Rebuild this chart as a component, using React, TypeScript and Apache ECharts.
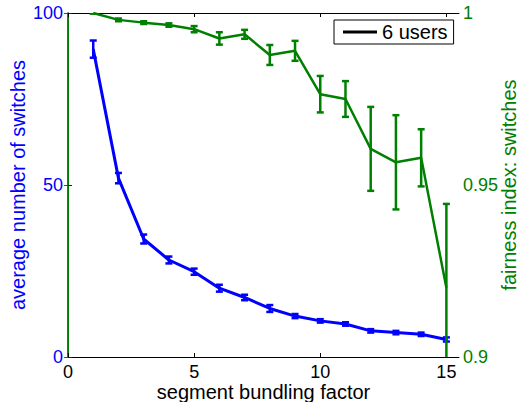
import React, { useEffect, useRef } from "react";
import * as echarts from "echarts";

const factors = [1, 2, 3, 4, 5, 6, 7, 8, 9, 10, 11, 12, 13, 14, 15];
const switchesMean = [89.5, 52, 34.3, 28.2, 24.8, 20, 17.3, 14.1, 11.9, 10.5, 9.6, 7.6, 7.1, 6.6, 5.1];
const switchesErr = [2.5, 1.5, 1.3, 1, 0.9, 1, 0.8, 1, 0.6, 0.5, 0.5, 0.5, 0.5, 0.5, 0.6];
const fairnessMean = [1.0, 0.998, 0.9972, 0.9965, 0.9953, 0.9926, 0.9938, 0.9878, 0.989, 0.9764, 0.975, 0.9605, 0.9566, 0.9579, 0.9201];
const fairnessErr = [0.0002, 0.0004, 0.0004, 0.0005, 0.0009, 0.0018, 0.0013, 0.0029, 0.0029, 0.0053, 0.0052, 0.0122, 0.0137, 0.0083, 0.0244];
const xTicks = [0, 5, 10, 15];
const leftTicks = [0, 50, 100];
const rightTicks = [0.9, 0.95, 1];
const legendName = "6 users";

const BLUE = "#0000ff";
const GREEN = "#008000";
const FONT = "'Liberation Sans', Arial, Helvetica, sans-serif";

function errorRender(color: string, axisMin: number, axisMax: number) {
  return (params: any, api: any) => {
    const x = api.value(0);
    const loRaw = api.value(1);
    const hiRaw = api.value(2);
    const lo = Math.max(loRaw, axisMin);
    const hi = Math.min(hiRaw, axisMax);
    const pLo = api.coord([x, lo]);
    const pHi = api.coord([x, hi]);
    const half = 3.5;
    const style = { stroke: color, lineWidth: 2.5 };
    const children: any[] = [
      { type: "line", shape: { x1: pLo[0], y1: pLo[1], x2: pHi[0], y2: pHi[1] }, style },
    ];
    if (hiRaw <= axisMax) {
      children.push({ type: "line", shape: { x1: pHi[0] - half, y1: pHi[1], x2: pHi[0] + half, y2: pHi[1] }, style });
    }
    if (loRaw >= axisMin) {
      children.push({ type: "line", shape: { x1: pLo[0] - half, y1: pLo[1], x2: pLo[0] + half, y2: pLo[1] }, style });
    }
    return { type: "group", children };
  };
}

export default function App() {
  const ref = useRef<HTMLDivElement>(null);
  useEffect(() => {
    if (!ref.current) return;
    const chart = echarts.init(ref.current, null, { renderer: "svg" });
    const blueLine = factors.map((x, i) => [x, switchesMean[i]]);
    const greenLine = factors.map((x, i) => [x, fairnessMean[i]]);
    const blueErr = factors.map((x, i) => [x, switchesMean[i] - switchesErr[i], switchesMean[i] + switchesErr[i]]);
    const greenErr = factors.map((x, i) => [x, fairnessMean[i] - fairnessErr[i], fairnessMean[i] + fairnessErr[i]]);

    chart.setOption({
      animation: false,
      backgroundColor: "#ffffff",
      textStyle: { fontFamily: FONT },
      grid: { left: 68, top: 13, right: 62, bottom: 45, containLabel: false, outerBoundsMode: "none" },
      legend: {
        left: 334,
        top: 20,
        orient: "horizontal",
        data: [{ name: legendName, icon: "rect" }],
        backgroundColor: "#ffffff",
        borderColor: "#000000",
        borderWidth: 1,
        borderRadius: 0,
        padding: [2, 6, 2, 9],
        itemWidth: 34,
        itemHeight: 3,
        textStyle: { fontSize: 20, color: "#000000", fontFamily: FONT },
      },
      xAxis: [
        {
          type: "value",
          min: 0,
          max: 15.5,
          interval: 5,
          position: "bottom",
          name: "segment bundling factor",
          nameLocation: "middle",
          nameGap: 25,
          nameMoveOverlap: false,
          nameTextStyle: { fontSize: 20, color: "#000000", fontFamily: FONT, lineHeight: 20 },
          axisLine: { show: true, lineStyle: { color: "#000000", width: 1 } },
          axisTick: { show: true, inside: true, length: 4, customValues: xTicks, lineStyle: { color: "#000000" } },
          axisLabel: { show: true, customValues: xTicks, fontSize: 18, lineHeight: 18, color: "#000000", margin: 6, fontFamily: FONT },
          splitLine: { show: false },
        },
        {
          type: "value",
          min: 0,
          max: 15.5,
          interval: 5,
          position: "top",
          axisLine: { show: true, onZero: false, lineStyle: { color: "#000000", width: 1 } },
          axisTick: { show: true, inside: true, length: 4, customValues: xTicks, lineStyle: { color: "#000000" } },
          axisLabel: { show: false },
          splitLine: { show: false },
        },
      ],
      yAxis: [
        {
          type: "value",
          min: 0,
          max: 100,
          interval: 50,
          position: "left",
          name: "average number of switches",
          nameLocation: "middle",
          nameRotate: 90,
          nameGap: 40,
          nameMoveOverlap: false,
          nameTextStyle: { fontSize: 20, color: BLUE, fontFamily: FONT },
          axisLine: { show: true, lineStyle: { color: BLUE, width: 1.5 } },
          axisTick: { show: true, inside: true, length: 4, customValues: leftTicks, lineStyle: { color: BLUE } },
          axisLabel: { customValues: leftTicks, fontSize: 18, color: BLUE, margin: 5, fontFamily: FONT },
          splitLine: { show: false },
        },
        {
          type: "value",
          min: 0.9,
          max: 1,
          interval: 0.05,
          position: "right",
          name: "fairness index: switches",
          nameLocation: "middle",
          nameRotate: 90,
          nameGap: 40,
          nameMoveOverlap: false,
          nameTextStyle: { fontSize: 20, color: GREEN, fontFamily: FONT, lineHeight: 20 },
          axisLine: { show: true, lineStyle: { color: GREEN, width: 1 } },
          axisTick: { show: true, inside: true, length: 4, customValues: rightTicks, lineStyle: { color: GREEN } },
          axisLabel: {
            customValues: rightTicks,
            fontSize: 18,
            color: GREEN,
            margin: 4,
            fontFamily: FONT,
            formatter: (v: number) => String(Math.round(v * 100) / 100),
          },
          splitLine: { show: false },
        },
      ],
      series: [
        {
          type: "line",
          name: "switches",
          xAxisIndex: 0,
          yAxisIndex: 0,
          data: blueLine,
          symbol: "none",
          lineStyle: { color: BLUE, width: 3 },
          itemStyle: { color: BLUE },
          z: 3,
        },
        {
          type: "custom",
          name: "switchesErr",
          xAxisIndex: 0,
          yAxisIndex: 0,
          data: blueErr,
          encode: { x: 0, y: [1, 2] },
          renderItem: errorRender(BLUE, 0, 100),
          clip: true,
          z: 3,
        },
        {
          type: "line",
          name: "fairness",
          xAxisIndex: 0,
          yAxisIndex: 1,
          data: greenLine,
          symbol: "none",
          lineStyle: { color: GREEN, width: 2.5 },
          itemStyle: { color: GREEN },
          z: 4,
        },
        {
          type: "custom",
          name: "fairnessErr",
          xAxisIndex: 0,
          yAxisIndex: 1,
          data: greenErr,
          encode: { x: 0, y: [1, 2] },
          renderItem: errorRender(GREEN, 0.9, 1),
          clip: true,
          z: 4,
        },
        {
          type: "line",
          name: legendName,
          xAxisIndex: 0,
          yAxisIndex: 0,
          data: [],
          symbol: "none",
          lineStyle: { color: "#000000", width: 2.5 },
          itemStyle: { color: "#000000" },
        },
      ],
    });
    return () => chart.dispose();
  }, []);
  return (
    <div
      ref={ref}
      style={{ position: "fixed", left: 0, top: 0, width: 521, height: 402, background: "#ffffff" }}
    />
  );
}
